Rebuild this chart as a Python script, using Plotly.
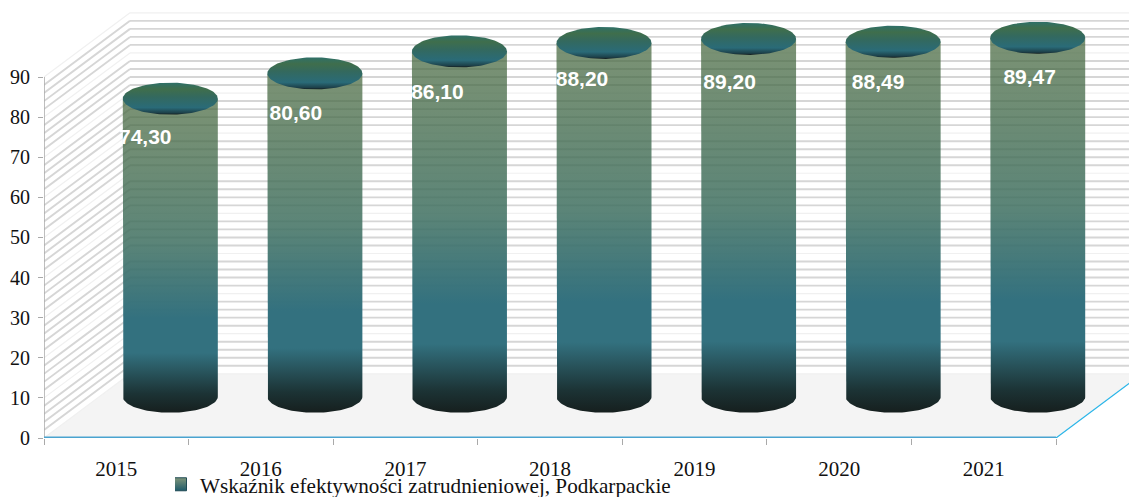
import numpy as np
import plotly.graph_objects as go

years = ["2015", "2016", "2017", "2018", "2019", "2020", "2021"]
values = [74.30, 80.60, 86.10, 88.20, 89.20, 88.49, 89.47]
labels = ["74,30", "80,60", "86,10", "88,20", "89,20", "88,49", "89,47"]
series_name = "Wskaźnik efektywności zatrudnieniowej, Podkarpackie"
y_ticks = list(range(0, 100, 10))

# layout constants (pixels -> axis units)
W, H = 1129, 497
L, B = 44, 59
PX_X = (1056 - 44) / 7
PX_Y = (437 - 76) / 90
X_MAX = (W - L) / PX_X
Y_MAX = (H - B) / PX_Y
DEPTH_X = 86 / PX_X
DEPTH_Y = 16.0
BAR_DX = 54 / PX_X
BAR_DY = 10.3
RX = 47.5 / PX_X
RY = 16 / PX_Y
label_dx_px = [-25, -19, -22, -22, -19, -15, -8]
label_dy_px = [40, 41, 42, 38, 45, 42, 41]

SIDE = [[0.0, "#161f1e"], [0.06, "#1c3335"], [0.19, "#33717f"], [0.30, "rgba(51,113,127,1)"],
        [0.55, "rgba(65,113,98,0.86)"], [1.0, "rgba(72,104,62,0.72)"]]
TOP = [[0.0, "#141c1c"], [0.05, "#1c3f48"], [0.22, "#2a6b78"], [0.55, "#33695f"], [0.8, "#3f6e4c"], [1.0, "#2f7068"]]

fig = go.Figure()


def add_line(xs, ys, color, width):
    fig.add_trace(go.Scatter(x=xs, y=ys, mode="lines", line=dict(color=color, width=width),
                             hoverinfo="skip", showlegend=False, cliponaxis=False))


# floor
fig.add_trace(go.Scatter(x=[0, 7, 7 + DEPTH_X, DEPTH_X, 0], y=[0, 0, DEPTH_Y, DEPTH_Y, 0], mode="lines",
                         fill="toself", fillcolor="#f4f4f4", line=dict(width=0),
                         hoverinfo="skip", showlegend=False))

# walls: back wall and left wall grid lines, minor every 2, major every 10
for step_ok, color, width in [(lambda k: k % 10 != 0, "#d6d6d6", 1.9), (lambda k: k % 10 == 0, "#f0f0f0", 1.2)]:
    bx, by, lx, ly = [], [], [], []
    for k in range(0, 92, 2):
        if step_ok(k):
            bx += [DEPTH_X, 7 + DEPTH_X, None]
            by += [k + DEPTH_Y, k + DEPTH_Y, None]
            lx += [0, DEPTH_X, None]
            ly += [k, k + DEPTH_Y, None]
    add_line(bx, by, color, width)
    add_line(lx, ly, color, width)

# axis lines
add_line([0, 0], [0, 90], "#a9a9a9", 1.5)
add_line([0, 7], [0.12, 0.12], "#4aa3cf", 2)
add_line([7, 7 + DEPTH_X], [0, DEPTH_Y], "#2ab5e8", 1.2)

# cylinders
t = np.linspace(0, np.pi, 60)
tt = np.linspace(0, 2 * np.pi, 120)
for i, v in enumerate(values):
    cx = i + 0.5 + BAR_DX
    base = BAR_DY
    top = v + BAR_DY
    side_x = np.concatenate([[cx - RX], cx - RX * np.cos(t), [cx + RX, cx - RX]])
    side_y = np.concatenate([[top], base - RY * np.sin(t), [top, top]])
    fig.add_trace(go.Scatter(x=side_x, y=side_y, mode="lines", fill="toself", line=dict(width=0),
                             fillgradient=dict(type="vertical", colorscale=SIDE),
                             hoverinfo="skip", showlegend=False))
    fig.add_trace(go.Scatter(x=cx + RX * np.cos(tt), y=top + RY * np.sin(tt), mode="lines", fill="toself",
                             line=dict(width=0), fillgradient=dict(type="vertical", colorscale=TOP),
                             hoverinfo="skip", showlegend=False))

# value labels
fig.add_trace(go.Scatter(
    x=[i + 0.5 + BAR_DX + dx / PX_X for i, dx in enumerate(label_dx_px)],
    y=[v + BAR_DY - dy / PX_Y for v, dy in zip(values, label_dy_px)],
    mode="text", text=labels, textposition="middle center",
    textfont=dict(family="Liberation Sans", size=21, color="white", weight="bold"),
    hoverinfo="skip", showlegend=False, cliponaxis=False))

# legend entry
fig.add_trace(go.Scatter(x=[None], y=[None], mode="markers", name=series_name,
                         marker=dict(symbol="square", size=13, color="#7d957a",
                                     line=dict(color="#1f4a55", width=1),
                                     gradient=dict(type="vertical", color="#1f5a6a"))))

fig.update_layout(
    width=W, height=H, margin=dict(l=L, r=0, t=0, b=B, autoexpand=False),
    paper_bgcolor="white", plot_bgcolor="white",
    font=dict(family="Liberation Serif", color="#111111"),
    showlegend=True,
    legend=dict(x=(175 - L) / (W - L), xanchor="left", y=-26 / 438, yanchor="top",
                font=dict(family="Liberation Serif", size=21.2, color="#111111"),
                bgcolor="rgba(0,0,0,0)", itemwidth=30, indentation=-15, tracegroupgap=0),
    xaxis=dict(range=[0, X_MAX], tickmode="array", tickvals=[i + 0.5 for i in range(7)], ticktext=years,
               ticks="outside", ticklen=12, tickcolor="rgba(0,0,0,0)", tickwidth=1, showgrid=False, zeroline=False,
               showline=False, automargin=False, tickfont=dict(size=21, family="Liberation Serif"),
               minor=dict(tickmode="array", tickvals=list(range(8)), ticks="outside", ticklen=6,
                          tickcolor="#a9a9a9", tickwidth=1, showgrid=False)),
    yaxis=dict(range=[0, Y_MAX], tickmode="array", tickvals=y_ticks, ticks="outside", ticklen=5,
               tickcolor="#a9a9a9", tickwidth=1, showgrid=False, zeroline=False, showline=False,
               automargin=False, ticklabelstandoff=4, tickfont=dict(size=20, family="Liberation Serif")),
)

fig.write_html("out.html", config=dict(displayModeBar=False),
               post_script="document.body.style.margin='0';document.body.style.overflow='hidden';")
